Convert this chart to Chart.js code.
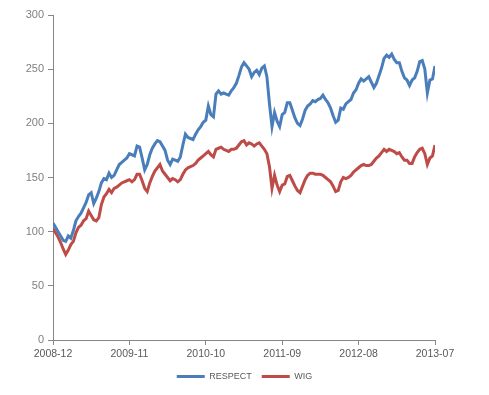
<!DOCTYPE html>
<html>
<head>
<meta charset="utf-8">
<script src="https://cdn.jsdelivr.net/npm/chart.js@4.4.1/dist/chart.umd.min.js"></script>
<style>
  html, body { margin: 0; padding: 0; background: #fff; }
  #wrap { width: 489px; height: 395px; }
</style>
</head>
<body>
<div id="wrap"><canvas id="chart" width="489" height="395"></canvas></div>
<script>
// tick labels along the time axis (one every 30 samples)
const tickLabels = ['2008-12', '2009-11', '2010-10', '2011-09', '2012-08', '2013-07'];
const seriesNames = ['RESPECT', 'WIG'];

// RESPECT index (151 samples, 2008-12 .. 2013-07)
const respect = [
  108, 104, 100, 96, 92, 91, 96, 94, 101, 110,
  114, 117, 122, 127, 134, 136, 126, 131, 137, 145,
  149, 148, 154, 150, 152, 157, 162, 164, 166, 168,
  172, 171, 170, 179, 178, 168, 157, 162, 171, 177,
  181, 184, 183, 179, 175, 166, 162, 167, 166, 165,
  169, 180, 190, 187, 186, 185, 190, 194, 197, 201,
  203, 216, 208, 206, 227, 230, 227, 228, 227, 226,
  230, 233, 237, 244, 252, 256, 253, 250, 243, 247,
  249, 245, 251, 253, 243, 218, 197, 210, 202, 197,
  208, 210, 219, 219, 212, 205, 200, 198, 204, 212,
  216, 218, 221, 220, 222, 223, 226, 222, 219, 214,
  207, 201, 203, 214, 213, 218, 220, 222, 228, 231,
  237, 241, 239, 241, 243, 238, 233, 237, 244, 251,
  260, 263, 261, 264, 259, 256, 256, 248, 242, 240,
  235, 240, 242, 248, 257, 258, 250, 228, 240, 241,
  253
];

// WIG index, same dates
const wig = [
  103, 99, 95, 90, 84, 79, 83, 88, 91, 99,
  104, 106, 110, 112, 119, 115, 111, 110, 113, 125,
  132, 135, 139, 136, 140, 141, 143, 145, 146, 147,
  148, 146, 148, 153, 153, 147, 140, 137, 145, 151,
  156, 159, 162, 156, 153, 150, 147, 149, 148, 146,
  148, 153, 157, 159, 160, 161, 163, 166, 168, 170,
  172, 174, 171, 169, 176, 177, 178, 176, 175, 174,
  176, 176, 177, 180, 183, 184, 180, 182, 181, 179,
  181, 182, 179, 176, 172, 160, 140, 152, 143, 137,
  143, 144, 151, 152, 147, 142, 138, 136, 142, 148,
  152, 154, 154, 153, 153, 153, 152, 150, 148, 146,
  142, 137, 138, 146, 150, 149, 150, 152, 155, 157,
  159, 161, 162, 161, 161, 162, 165, 168, 170, 173,
  176, 174, 176, 175, 174, 172, 173, 169, 166, 166,
  163, 163, 169, 173, 176, 177, 172, 162, 168, 170,
  180
];

const step = 30; // samples between labelled ticks
const toPoints = arr => arr.map((v, i) => ({ x: i, y: v }));

const FONT = '"Liberation Sans", Arial, sans-serif';

new Chart(document.getElementById('chart'), {
  type: 'line',
  data: {
    datasets: [
      {
        label: seriesNames[0],
        data: toPoints(respect),
        borderColor: '#4A7EBB',
        backgroundColor: '#4A7EBB',
        borderWidth: 3,
        pointRadius: 0,
        tension: 0
      },
      {
        label: seriesNames[1],
        data: toPoints(wig),
        borderColor: '#BE4B48',
        backgroundColor: '#BE4B48',
        borderWidth: 3,
        pointRadius: 0,
        tension: 0
      }
    ]
  },
  options: {
    responsive: false,
    animation: false,
    layout: { padding: { top: 15, left: 0, right: 0, bottom: 4 } },
    plugins: {
      tooltip: { enabled: false },
      legend: {
        position: 'bottom',
        labels: {
          usePointStyle: true,
          pointStyle: 'line',
          pointStyleWidth: 28,
          boxHeight: 9,
          padding: 10,
          color: '#595959',
          font: { family: FONT, size: 9 }
        }
      }
    },
    scales: {
      x: {
        type: 'linear',
        min: 0,
        max: respect.length - 1,
        afterFit: s => { s.height = 22; },
        ticks: {
          stepSize: step,
          autoSkip: false,
          maxRotation: 0,
          padding: 3,
          color: '#595959',
          font: { family: FONT, size: 10.5 },
          callback: v => tickLabels[v / step]
        },
        grid: { drawOnChartArea: false, drawTicks: true, tickLength: 5, color: '#868686' },
        border: { color: '#868686', width: 1 }
      },
      y: {
        min: 0,
        max: 300,
        afterFit: s => { s.width = 53; },
        ticks: {
          stepSize: 50,
          padding: 4,
          color: '#7F7F7F',
          font: { family: FONT, size: 11 }
        },
        grid: { drawOnChartArea: false, drawTicks: true, tickLength: 5, color: '#868686' },
        border: { color: '#868686', width: 1 }
      },
      // empty spacer on the right so the plot ends where the original does
      yRight: {
        position: 'right',
        display: true,
        afterFit: s => { s.width = 54; },
        ticks: { display: false },
        grid: { display: false },
        border: { display: false }
      }
    }
  }
});
</script>
</body>
</html>
